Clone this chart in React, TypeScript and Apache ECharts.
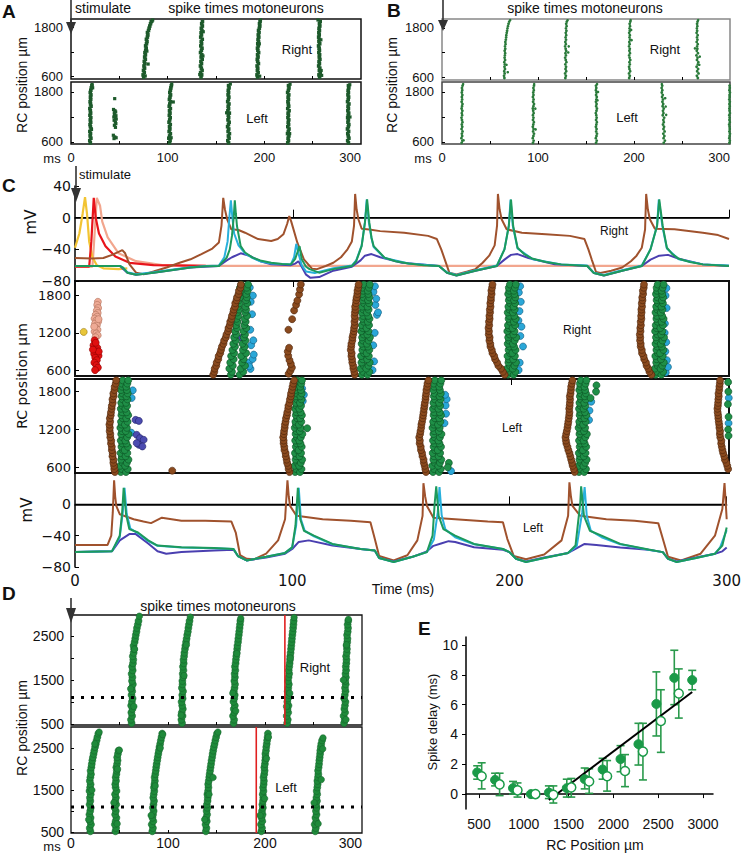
import React, { useEffect, useRef } from 'react';
import * as echarts from 'echarts';

// ---------------- Panel A / B (spike times motoneurons) ----------------
const AB_POS = [578, 632, 690, 743, 799, 852, 911, 965, 1018, 1074, 1129, 1183, 1240, 1292, 1349, 1403, 1458, 1512, 1567, 1621, 1678, 1730, 1787, 1841, 1898, 1952];

const A_R_V1 = [75.2, 74.6, 75.8, 75.0, 76.1, 75.5, 76.4, 75.8, 76.9, 76.2, 77.0, 76.5, 77.3, 77.8, 77.2, 78.1, 78.6, 78.0, 79.0, 79.5, 79.1, 80.2, 80.8, 81.5, 82.3, 83.0];
const A_R_V2 = [134.5, 135.2, 134.1, 135.6, 134.8, 133.9, 135.0, 134.4, 135.7, 134.6, 135.3, 134.0, 134.9, 135.5, 134.3, 135.1, 134.7, 135.8, 134.2, 135.0, 134.6, 135.4, 134.8, 135.9, 135.2, 136.0];
const A_R_V3 = [193.0, 192.4, 193.6, 192.8, 193.2, 192.5, 193.9, 193.1, 192.7, 193.5, 193.0, 194.1, 193.3, 192.9, 193.8, 193.2, 194.0, 193.5, 194.3, 193.7, 194.5, 194.0, 194.8, 195.3, 195.0, 195.6];
const A_R_V4 = [257.2, 256.5, 257.8, 256.9, 257.4, 256.2, 257.0, 256.6, 257.5, 256.8, 257.2, 256.4, 257.0, 256.7, 256.1, 257.3, 256.5, 256.9, 256.2, 256.8, 256.4, 257.0, 256.6, 257.4, 257.0, 257.8];
const A_R_EXTRA = [[84.5, 1990], [83.8, 1960], [79.8, 900], [136.8, 1700], [133.2, 640], [196.0, 1990], [195.2, 600], [259.3, 620], [258.8, 740], [255.5, 1990], [76.8, 605], [78.5, 1220], [136.5, 1100], [194.8, 1400], [258.5, 1500]];

const A_L_V1 = [20.0, 19.4, 20.6, 19.8, 20.2, 19.5, 20.8, 20.1, 19.7, 20.4, 19.9, 20.5, 19.6, 20.3, 20.0, 19.5, 20.7, 20.2, 19.8, 20.4, 20.1, 20.6, 19.9, 20.5, 21.0, 21.6];
const A_L_V2 = [101.8, 102.5, 101.2, 102.0, 102.8, 101.5, 102.3, 101.9, 102.7, 101.4, 102.1, 102.6, 101.7, 102.4, 101.9, 102.8, 101.6, 102.2, 102.9, 101.8, 102.4, 103.0, 102.2, 102.8, 103.3, 103.8];
const A_L_V3 = [163.0, 162.2, 163.5, 162.8, 163.9, 162.5, 163.2, 162.0, 162.9, 163.6, 162.4, 163.1, 162.7, 163.8, 162.3, 163.0, 162.6, 163.4, 162.1, 162.8, 163.3, 162.5, 163.0, 162.7, 163.5, 163.0];
const A_L_V4 = [224.2, 225.0, 224.6, 225.4, 224.0, 224.8, 225.5, 224.3, 225.1, 224.7, 225.3, 224.4, 225.0, 224.6, 225.6, 224.2, 225.2, 224.8, 224.4, 225.0, 224.6, 225.3, 224.1, 224.9, 225.5, 225.0];
const A_L_V5 = [287.0, 286.2, 287.5, 286.8, 286.3, 287.2, 286.0, 286.9, 287.4, 286.5, 287.0, 286.2, 286.7, 287.3, 286.4, 287.0, 286.6, 287.5, 286.1, 286.8, 287.2, 286.5, 287.0, 286.7, 287.4, 287.0];
const A_L_CLUSTER = [[45.2, 1640], [44.0, 1380], [45.5, 1350], [44.8, 1300], [46.2, 1320], [45.0, 1250], [46.5, 1230], [44.3, 1200], [45.8, 1180], [46.8, 1150], [44.6, 1120], [45.9, 1080], [46.4, 1040], [44.9, 1000], [46.0, 950], [43.8, 760], [45.3, 720], [46.7, 700], [44.5, 680]];
const A_L_EXTRA = [[21.8, 1980], [22.4, 1900], [105.8, 1560], [104.2, 1990], [164.8, 1990], [226.6, 1985], [288.4, 1975], [21.2, 900], [103.6, 700], [161.0, 1300], [226.2, 800], [288.6, 1200]];

const B_R_V1 = [65.0, 64.6, 65.3, 64.8, 65.6, 65.1, 65.4, 64.9, 65.7, 65.2, 65.5, 65.8, 65.3, 65.9, 65.6, 66.2, 66.0, 66.5, 66.8, 67.0, 67.4, 67.8, 68.2, 68.7, 69.3, 70.0];
const B_R_V2 = [128.5, 129.0, 128.2, 129.4, 128.7, 129.2, 128.4, 129.6, 128.9, 128.3, 129.1, 128.6, 129.3, 128.8, 128.2, 129.0, 128.5, 129.2, 128.7, 129.4, 128.9, 129.6, 129.1, 129.8, 129.4, 130.0];
const B_R_V3 = [195.0, 195.6, 194.8, 196.0, 195.3, 194.9, 195.7, 195.2, 196.1, 195.4, 194.9, 195.8, 195.2, 195.6, 194.8, 195.5, 195.1, 195.9, 195.3, 195.7, 195.0, 195.6, 195.3, 195.9, 195.5, 196.2];
const B_R_V4 = [266.5, 265.5, 267.2, 265.8, 266.8, 265.2, 266.4, 267.0, 265.6, 266.2, 265.0, 266.6, 265.4, 266.0, 265.7, 266.4, 265.3, 266.1, 265.6, 266.3, 265.2, 265.8, 265.5, 266.0, 265.7, 266.2];
const B_R_EXTRA = [[68.5, 720], [67.2, 900], [71.0, 1990], [131.5, 1200], [132.0, 1350], [130.8, 1985], [197.5, 1500], [197.0, 1750], [196.5, 1990], [268.5, 1100], [268.0, 900], [263.5, 1300], [266.8, 1990]];

const B_L_V1 = [20.5, 21.2, 20.2, 21.0, 20.7, 21.4, 20.4, 21.1, 20.6, 21.3, 20.8, 20.3, 21.0, 20.6, 21.2, 20.4, 20.9, 21.3, 20.5, 21.0, 20.7, 21.2, 20.6, 21.1, 20.8, 21.4];
const B_L_V2 = [94.8, 95.5, 94.5, 95.2, 95.8, 94.9, 95.4, 94.6, 95.1, 95.7, 94.8, 95.3, 94.7, 95.5, 95.0, 94.6, 95.2, 95.8, 94.9, 95.4, 94.7, 95.3, 95.0, 95.6, 95.2, 95.8];
const B_L_V3 = [160.5, 161.2, 160.2, 160.9, 161.4, 160.6, 161.0, 160.3, 160.8, 161.3, 160.5, 161.1, 160.7, 160.2, 160.9, 161.4, 160.6, 161.0, 160.4, 160.8, 161.2, 160.5, 160.9, 160.3, 160.7, 160.4];
const B_L_V4 = [231.0, 232.2, 230.8, 231.6, 230.5, 231.9, 230.7, 231.3, 230.2, 231.0, 230.6, 231.4, 229.9, 230.7, 230.2, 231.0, 229.8, 230.4, 229.6, 230.2, 229.3, 229.9, 228.9, 229.5, 228.8, 229.4];
const B_L_V5 = [299.4, 299.8, 299.2, 299.6, 299.9, 299.3, 299.7, 299.5, 299.1, 299.8, 299.4, 299.6, 299.2, 299.9, 299.5, 299.3, 299.7, 299.4, 299.8, 299.2, 299.6, 299.5, 299.9, 299.3, 299.7, 299.5];
const B_L_EXTRA = [[22.5, 640], [22.0, 1990], [97.5, 900], [97.2, 1400], [96.0, 1990], [162.5, 1800], [162.0, 1600], [161.5, 1990], [233.5, 1250], [233.0, 1450], [232.5, 1650], [229.0, 1990]];

// ---------------- Panel C voltage traces (ms, mV) ----------------
const VR_YELLOW = [[0, -38], [2, -20], [3.5, 5], [4.6, 26], [5.5, 5], [6.5, -30], [8, -50], [10, -60], [13, -64], [20, -65], [24, -64]];
const VR_RED = [[0, -62], [6.5, -62], [7.5, -30], [8.6, 25], [9.5, 0], [11, -20], [14, -36], [18.5, -49], [25, -57], [36, -60], [60, -61]];
const VR_SALMON = [[0, -62], [8, -62], [9, -20], [10, 25], [11.5, 15], [12.5, -5], [15, -25], [20, -45], [28, -55], [40, -60], [60, -61], [300, -61]];
const VR_BROWN = [[0, -51], [8, -51.5], [13, -51], [17, -47], [21.7, -41], [23, -45], [25, -59], [28, -69.5], [31.5, -71.6], [36, -68], [42, -63], [48, -57], [53, -52.6], [58, -46], [63, -39], [66, -31.5], [67.2, -10], [68, 25], [68.8, 10], [69.8, -2], [71.7, -14.7], [75, -15.6], [78, -19], [84, -27], [90, -29.5], [93, -27], [95.6, -21], [97.3, -8], [98.3, 2], [99.2, -5], [100, -12.6], [102, -31.6], [105, -52.6], [108.7, -64.4], [111, -65], [115, -61], [118.5, -57], [122, -50], [125, -40], [127, -30], [128, -10], [128.5, 30], [129.2, 10], [130, -2], [131.5, -14], [135, -15], [140, -17], [151, -19], [162, -23], [166, -27], [168, -40], [169.6, -52.6], [171.7, -69.5], [175, -71.6], [180, -68], [183.7, -65], [187, -57], [190, -48], [192.5, -35], [193.6, -10], [194, 30], [194.8, 10], [195.7, -2], [198, -14.7], [205, -19], [216, -21], [227, -23], [233.7, -27], [235.5, -40], [237, -52.6], [239, -68.6], [241, -70], [246, -67], [251, -63], [255, -55], [257.6, -48], [260, -38], [261.5, -15], [262, 30], [262.8, 10], [263.7, -2], [266, -14], [275, -14.7], [288, -19], [295, -22], [300, -27]];
const VR_BLUE = [[0, -61], [20.6, -61], [24, -69.5], [28, -72], [36, -69.5], [53, -63], [66, -61], [69.6, -54], [72, -50], [76, -45], [80, -48], [85, -55], [90, -59], [99, -60], [101, -58], [102.5, -55], [104, -62], [106, -72], [108, -76], [112, -75], [118.5, -67], [127, -62], [131, -54], [133, -48], [136, -46], [140, -50], [150, -57], [167, -61], [170.6, -69.5], [175, -73], [183.7, -67], [193.5, -61], [197, -53], [200, -47], [203, -46], [208, -51], [220, -59], [235, -61], [238, -70], [242.6, -73], [251, -67], [260, -61], [264, -53], [268, -48], [272, -47], [277, -52], [288, -59], [300, -61]];
const VR_CYAN = [[0, -61], [20.6, -61], [22, -63], [24, -69], [28, -71.5], [36, -69], [45, -65.5], [53, -62.5], [60, -61], [66, -60.5], [68.5, -50], [70, -30], [70.8, 0], [71.5, 22], [72.2, 0], [73, -20], [75, -35], [78, -45], [81.5, -51], [85, -55], [90, -58], [99, -59], [100.5, -50], [101.5, -33], [102.5, -45], [104, -60], [106, -68], [110, -70], [118.5, -64], [127, -60.5], [129, -54], [131.5, -35], [133, -6], [133.8, 23], [134.8, -6], [136, -26], [137, -37], [142, -51], [153, -58], [167, -61], [170.6, -69], [175, -72.5], [183.7, -66.5], [193.5, -60.5], [197, -40], [199, -10], [199.8, 23], [200.8, -10], [203, -39], [210, -52.5], [223, -59], [235, -60.5], [238, -69.5], [242.6, -72.5], [251, -66.5], [260, -60.5], [264, -40], [267, -10], [267.8, 23], [269.4, -10], [271.5, -39], [277, -52.5], [288, -59], [300, -60.5]];
const VR_GREEN = [[0, -61], [20.6, -61], [22, -63], [24, -69.5], [28, -72], [32, -71], [36, -69.5], [45, -66], [53, -63], [60, -61.5], [66, -61], [69.6, -50.5], [71, -40], [72, -23], [72.8, 0], [73.3, 22], [73.8, 5], [74.3, -10.5], [76, -36], [78, -44], [81.5, -50.5], [85, -54], [90, -57], [95, -58.5], [99, -59], [101, -52], [102, -44], [103, -36], [104, -52.6], [106, -62], [107.6, -65], [112, -69.5], [118.5, -65], [127, -61], [129, -55], [131.5, -36], [133, -6], [134, 23], [135, -6], [136, -25], [137, -36], [142, -50.5], [147, -55], [153, -58], [160, -60], [167, -61], [170.6, -69.5], [175, -73], [183.7, -67], [193.5, -61], [197, -40], [199, -10.5], [200, 23], [201, -10.5], [203, -38], [206, -46], [210, -52], [216, -56], [223, -59], [235, -61], [238, -70], [242.6, -73], [251, -67], [260, -61], [264, -40], [267, -10.5], [268, 23], [269.6, -10.5], [271.5, -38], [274, -46], [277, -52], [282, -56], [288, -59], [300, -61]];

const VL_BROWN = [[0, -51.8], [15, -51.8], [16.7, -40], [17.4, -10], [18, 30.7], [18.5, 10], [19, -2], [20.6, -12.6], [27, -19], [31.5, -22], [35, -24], [40, -17], [49, -21], [60, -21], [72, -22], [74, -36], [76, -65], [79, -69.5], [82.6, -70], [88, -63], [93.5, -46], [96.7, -19], [97.8, 30.7], [98.4, 10], [99, -2], [102, -14.7], [114, -19], [127, -21], [136, -23], [138, -44], [140, -66], [146.7, -71.6], [153, -65], [157.6, -46], [160, -14.7], [160.4, 27], [161.2, 10], [162, -2], [165, -17], [175, -19], [190, -22], [197, -23], [199, -44], [202, -66], [207.6, -70], [216, -64], [224, -46], [227, -14.7], [227.6, 28], [228.3, 10], [229, -2], [232.6, -14.7], [244.6, -19], [257.6, -21], [268.5, -24], [270.6, -44], [273, -67], [279, -71.6], [288, -63], [294.6, -40], [298, -6], [299, 27], [299.6, 0], [300, -19]];
const VL_BLUE = [[0, -61], [17, -60], [20.6, -46], [25, -38], [28, -38], [33.7, -50], [38, -60], [42, -63], [49, -61], [64, -59], [73, -58], [75, -66], [79, -71.6], [88, -68], [96.7, -63], [100, -57], [103, -48], [107.6, -46], [118.5, -52.6], [131.5, -57], [138, -59], [140, -68.6], [146.7, -73], [155.4, -67], [162, -60], [165, -53], [168.5, -50], [172, -47], [175, -48], [183.7, -54.7], [197, -58], [200, -61], [203, -69.5], [207.6, -73], [216, -68], [227, -62], [230.4, -57], [234.6, -50.5], [240, -52], [251, -55], [264, -58], [270.6, -61], [273, -69.5], [277, -73], [285.9, -68], [294.6, -63], [298, -60], [300, -55]];
const VL_CYAN = [[0, -61], [17, -60], [20.6, -42], [22, -10], [22.8, 21], [23.8, -12], [25.5, -31], [29, -37], [33.7, -47], [38, -53], [49, -55], [64, -56], [73, -57], [75, -66], [79, -71.6], [88, -67], [96.7, -62], [100, -55], [101.8, -27], [103, 21], [104, -19], [105.8, -34], [110, -41], [118.5, -51], [131.5, -57], [138, -59], [140, -68.6], [146.7, -73.7], [155.4, -67], [162, -61], [165.2, -45], [167, -10], [167.8, 22], [168.8, -14], [170.5, -32], [175, -42], [183.7, -51], [197, -57], [200, -61], [203, -69.5], [207.6, -73.7], [216, -68.6], [227, -62], [231, -53], [233.5, -10], [234.6, 22], [235.6, -15], [237.5, -34], [242.4, -42], [251, -51], [264, -58], [270.6, -61], [273, -69.5], [277, -73.7], [285.9, -68.6], [294.6, -63], [297, -55], [299, -40], [300, -33]];
const VL_GREEN = [[0, -61], [17, -60], [20.6, -40], [21.7, -10.5], [22.4, 21], [23.5, -12.6], [25, -31.6], [29, -36], [33.7, -46], [38, -52.6], [49, -54.7], [64, -55.6], [73, -57], [75, -66], [79, -71.6], [88, -67], [96.7, -62], [100, -54.7], [101.5, -27], [102.6, 21], [103.7, -19], [105.4, -33.7], [110, -40], [118.5, -50.5], [131.5, -57], [138, -59], [140, -68.6], [146.7, -73.7], [155.4, -67], [162, -61], [164.6, -40], [165.6, 2], [166.3, 23], [167.4, -14.7], [169.6, -31.6], [175, -40], [183.7, -50.5], [197, -57], [200, -61], [203, -69.5], [207.6, -73.7], [216, -68.6], [227, -62], [230.4, -52.6], [232.6, 2], [233, 23], [234.3, -14.7], [237, -33.7], [242.4, -40], [251, -50.5], [264, -57.7], [270.6, -61], [273, -69.5], [277, -73.7], [285.9, -68.6], [294.6, -63], [298, -52.6], [300, -29.5]];

// ---------------- Panel C rasters (ms, µm) ----------------
const C_POS = [525, 572, 624, 671, 722, 775, 826, 873, 925, 978, 1024, 1076, 1127, 1174, 1226, 1277, 1323, 1378, 1426, 1473, 1528, 1575, 1622, 1677, 1726, 1771, 1825, 1878, 1927, 1978];

const CR_BROWN_V1 = [63.4, 63.9, 64.1, 64.8, 65.0, 65.7, 65.9, 66.6, 67.0, 67.4, 68.1, 68.4, 69.2, 69.5, 70.2, 70.4, 71.0, 71.2, 71.8, 72.0, 72.6, 72.8, 73.4, 73.5, 74.1, 74.3, 75.0, 75.2, 75.9, 76.1];
const CR_BROWN_V2 = [[98.0, 540], [98.8, 590], [99.5, 640], [99.0, 700], [98.4, 760], [97.8, 830], [97.6, 900], [98.2, 960], [97.9, 1250], [99.6, 1420], [100.5, 1560], [101.4, 1650], [102.0, 1720], [102.8, 1820], [103.2, 1900], [103.6, 1980]];
const CR_BROWN_V3 = [128.3, 128.1, 127.7, 127.6, 127.2, 127.1, 126.8, 126.9, 126.5, 126.7, 126.8, 127.2, 127.3, 127.6, 127.9, 128.0, 128.3, 128.2, 128.5, 128.3, 128.4, 128.6, 128.5, 128.9, 129.0, 129.2, 129.5, 129.6, 129.9, 130.1];
const CR_BROWN_V4 = [197.1, 196.3, 195.4, 194.2, 193.6, 192.7, 192.3, 191.5, 191.2, 190.6, 190.5, 190.1, 190.2, 189.8, 189.9, 189.7, 190.0, 189.9, 190.2, 190.1, 190.4, 190.3, 190.6, 190.5, 190.8, 190.8, 191.1, 191.0, 191.3, 191.5];
const CR_BROWN_V5 = [264.4, 263.5, 263.0, 262.2, 261.9, 261.1, 260.8, 260.1, 260.0, 259.5, 259.5, 259.2, 259.3, 259.1, 259.4, 259.3, 259.6, 259.5, 259.8, 259.7, 259.9, 259.8, 260.1, 260.0, 260.3, 260.2, 260.6, 260.5, 260.9, 261.0];

const CR_GREEN_V1A = [71.5, 72.0, 70.8, 72.4, 71.2, 72.8, 71.6, 73.0, 72.2, 73.4, 72.6, 73.8, 73.0, 74.0, 73.4, 74.3, 73.8, 74.6, 74.1, 74.9, 74.4, 75.2, 74.8, 75.5, 75.1, 75.8, 75.4, 76.0, 75.7, 76.3];
const CR_GREEN_V1B = [75.5, 77.2, 76.0, 78.0, 76.6, 77.4, 76.2, 78.5, 77.0, 77.8, 76.8, 78.2, 77.4, 78.0, 77.2, 78.6, 77.6, 78.3, 77.8, 78.9, 78.0, 78.5, 78.2, 79.0, 78.4, 78.8, 78.6, 79.2, 78.8, 79.4];
const CR_GREEN_V2A = [131.6, 132.2, 131.0, 132.5, 131.4, 132.0, 131.2, 132.6, 131.8, 132.3, 131.5, 132.1, 131.7, 132.4, 131.3, 132.0, 131.6, 132.5, 131.9, 132.2, 131.5, 132.3, 131.8, 132.6, 132.0, 132.4, 131.7, 132.2, 132.0, 132.5];
const CR_GREEN_V2B = [134.2, 135.0, 133.6, 134.6, 135.2, 134.0, 134.8, 133.8, 135.0, 134.4, 133.9, 134.7, 135.3, 134.1, 134.6, 133.7, 134.9, 134.3, 135.1, 134.5, 133.9, 134.7, 134.2, 134.9, 134.4, 135.0, 134.6, 134.3, 134.8, 135.2];
const CR_GREEN_V3A = [198.6, 199.2, 198.2, 199.5, 198.8, 199.0, 198.4, 199.6, 198.9, 199.3, 198.5, 199.1, 198.7, 199.4, 198.3, 199.0, 198.6, 199.5, 198.9, 199.2, 198.5, 199.3, 198.8, 199.6, 199.0, 199.4, 198.7, 199.2, 199.0, 199.5];
const CR_GREEN_V3B = [201.2, 202.0, 200.8, 201.6, 202.3, 201.0, 201.8, 200.6, 202.1, 201.4, 200.9, 201.7, 202.4, 201.1, 201.6, 200.7, 201.9, 201.3, 202.2, 201.5, 200.9, 201.7, 201.2, 201.9, 201.4, 202.0, 201.6, 201.3, 201.8, 202.2];
const CR_GREEN_V4A = [266.4, 267.0, 266.0, 267.3, 266.6, 266.8, 266.2, 267.4, 266.7, 267.1, 266.3, 266.9, 266.5, 267.2, 266.1, 266.8, 266.4, 267.3, 266.7, 267.0, 266.3, 267.1, 266.6, 267.4, 266.8, 267.2, 266.5, 267.0, 266.8, 267.3];
const CR_GREEN_V4B = [269.0, 269.8, 268.6, 269.4, 270.1, 268.8, 269.6, 268.4, 269.9, 269.2, 268.7, 269.5, 270.2, 268.9, 269.4, 268.5, 269.7, 269.1, 270.0, 269.3, 268.7, 269.5, 269.0, 269.7, 269.2, 269.8, 269.4, 269.1, 269.6, 270.0];
const CR_CYAN = [[80.5, 620], [79.8, 720], [81.5, 780], [82.0, 850], [80.8, 1000], [81.8, 1080], [80.4, 1250], [81.2, 1500], [80.6, 1700], [81.6, 1800], [80.2, 1930], [79.9, 660],
  [136.5, 600], [137.2, 740], [136.8, 1000], [137.5, 1200], [138.5, 1490], [139.0, 1530], [137.8, 1650], [138.2, 1750], [136.9, 1860], [137.6, 1950],
  [203.5, 600], [204.0, 720], [205.5, 980], [204.3, 1150], [204.8, 1300], [203.9, 1550], [204.5, 1700], [203.6, 1850], [204.2, 1950], [203.4, 1400],
  [271.0, 560], [272.0, 650], [271.5, 760], [270.8, 900], [271.2, 1050], [270.6, 1350], [271.4, 1600], [270.9, 1800], [271.3, 1920], [270.5, 1200]];
const CR_INDIGO = [[76.5, 1120]];
const CR_RED = [[9.0, 1080], [8.5, 1000], [10.2, 960], [9.6, 900], [8.8, 860], [10.8, 830], [9.3, 800], [10.0, 760], [8.9, 720], [9.8, 680], [10.5, 640], [9.2, 600], [10.9, 900], [8.2, 930], [9.5, 1040]];
const CR_SALMON = [[10.5, 1700], [10.2, 1650], [10.6, 1600], [10.0, 1560], [10.4, 1520], [9.5, 1490], [10.2, 1460], [9.0, 1430], [9.8, 1400], [10.6, 1380], [9.2, 1350], [10.0, 1320], [9.5, 1280], [10.3, 1250], [9.0, 1220], [9.8, 1190], [10.4, 1160], [9.4, 1130], [8.8, 1300], [10.8, 1420]];
const CR_YELLOW = [[4.0, 1215]];

const CL_BROWN_V1 = [18.3, 18.0, 17.9, 17.6, 17.6, 17.2, 17.3, 16.9, 16.9, 16.5, 16.6, 16.2, 16.2, 15.9, 16.0, 15.8, 16.1, 16.0, 16.4, 16.5, 16.8, 16.9, 17.3, 17.2, 17.7, 17.6, 18.1, 18.2, 18.7, 18.9];
const CL_BROWN_V2 = [98.4, 98.0, 97.8, 97.3, 97.1, 96.7, 96.6, 96.1, 96.0, 95.7, 95.7, 95.5, 95.8, 95.9, 96.2, 96.3, 96.6, 96.8, 97.2, 97.4, 97.8, 97.9, 98.4, 98.6, 99.0, 99.1, 99.5, 99.8, 100.1, 100.5];
const CL_BROWN_V3 = [161.0, 160.7, 160.4, 160.0, 159.9, 159.4, 159.2, 158.7, 158.6, 158.1, 158.2, 157.9, 158.3, 158.5, 158.8, 158.9, 159.2, 159.5, 159.7, 159.9, 160.1, 160.3, 160.5, 160.8, 160.9, 161.1, 161.2, 161.5, 161.7, 162.1];
const CL_BROWN_V4 = [229.2, 228.8, 228.3, 228.0, 227.6, 227.2, 226.8, 226.3, 225.9, 225.4, 225.2, 225.0, 225.3, 225.6, 225.9, 226.1, 226.3, 226.5, 226.7, 226.8, 226.7, 226.9, 227.0, 227.1, 227.0, 227.3, 227.5, 227.6, 227.9, 228.2];
const CL_BROWN_V5 = [300.2, 299.6, 299.2, 298.8, 298.1, 297.8, 297.3, 297.0, 296.7, 296.4, 296.5, 296.0, 295.8, 295.9, 295.6, 295.5, 295.3, 295.1, 295.0, 294.8, 294.7, 294.9, 295.0, 295.1, 295.3, 295.2, 295.5, 295.6, 295.8, 295.9];
const CL_BROWN_EXTRA = [[44.6, 547]];

const CL_GREEN_V1A = [21.0, 21.6, 20.7, 21.9, 21.2, 21.5, 20.9, 22.0, 21.3, 21.7, 21.0, 21.8, 21.2, 21.6, 20.8, 21.4, 21.1, 21.9, 21.3, 21.6, 21.0, 21.7, 21.2, 21.9, 21.4, 21.8, 21.1, 21.6, 21.4, 21.9];
const CL_GREEN_V1B = [23.4, 24.2, 23.0, 23.8, 24.5, 23.2, 24.0, 22.8, 24.3, 23.6, 23.1, 23.9, 24.6, 23.3, 23.8, 22.9, 24.1, 23.5, 24.4, 23.7, 23.1, 23.9, 23.4, 24.1, 23.6, 24.2, 23.8, 23.5, 24.0, 24.4];
const CL_GREEN_V2A = [101.0, 101.6, 100.7, 101.9, 101.2, 101.5, 100.9, 102.0, 101.3, 101.7, 101.0, 101.8, 101.2, 101.6, 100.8, 101.4, 101.1, 101.9, 101.3, 101.6, 101.0, 101.7, 101.2, 101.9, 101.4, 101.8, 101.1, 101.6, 101.4, 101.9];
const CL_GREEN_V2B = [103.2, 103.9, 102.8, 103.6, 104.2, 103.0, 103.7, 102.6, 104.0, 103.4, 102.9, 103.6, 104.3, 103.1, 103.5, 102.7, 103.8, 103.3, 104.1, 103.5, 102.9, 103.7, 103.2, 103.9, 103.4, 104.0, 103.6, 103.3, 103.8, 104.1];
const CL_GREEN_V3A = [164.2, 164.8, 163.9, 165.1, 164.4, 164.7, 164.1, 165.2, 164.5, 164.9, 164.2, 165.0, 164.4, 164.8, 164.0, 164.6, 164.3, 165.1, 164.5, 164.8, 164.2, 164.9, 164.4, 165.1, 164.6, 165.0, 164.3, 164.8, 164.6, 165.1];
const CL_GREEN_V3B = [167.0, 167.8, 166.6, 167.4, 168.0, 166.8, 167.5, 166.4, 167.9, 167.2, 166.7, 167.4, 168.1, 166.9, 167.3, 166.5, 167.6, 167.1, 167.9, 167.3, 166.7, 167.5, 167.0, 167.7, 167.2, 167.8, 167.4, 167.1, 167.6, 168.0];
const CL_GREEN_V4A = [231.2, 231.8, 230.9, 232.1, 231.4, 231.7, 231.1, 232.2, 231.5, 231.9, 231.2, 232.0, 231.4, 231.8, 231.0, 231.6, 231.3, 232.1, 231.5, 231.8, 231.2, 231.9, 231.4, 232.1, 231.6, 232.0, 231.3, 231.8, 231.6, 232.1];
const CL_GREEN_V4B = [233.6, 234.4, 233.2, 234.0, 234.7, 233.4, 234.2, 233.0, 234.5, 233.8, 233.3, 234.1, 234.8, 233.5, 234.0, 233.1, 234.3, 233.7, 234.6, 233.9, 233.3, 234.1, 233.6, 234.3, 233.8, 234.4, 234.0, 233.7, 234.2, 234.6];
const CL_GREEN_EXTRA = [[106.5, 1220], [171.5, 670], [171.0, 600], [239.2, 1900], [239.0, 1800], [236.5, 1700], [299.6, 1200], [299.8, 1400], [299.5, 1600], [299.7, 1800], [299.6, 1950], [299.8, 1100]];
const CL_CYAN = [[26.5, 1820], [25.8, 1150], [26.0, 1700], [104.5, 1650], [105.0, 1750], [104.2, 1850], [172.5, 540], [170.0, 1580], [170.5, 1680], [169.8, 1750], [169.5, 1300], [170.2, 1450], [236.8, 1640], [236.0, 1500], [235.8, 1350], [299.9, 1700], [299.8, 1300]];
const CL_INDIGO = [[27.8, 1352], [29.3, 1336], [28.3, 1115], [29.8, 1063], [31.5, 1036], [29.3, 958], [30.9, 931], [28.3, 984]];

// ---------------- Panel D ----------------
const D_POS = [520, 598, 683, 760, 842, 918, 1003, 1081, 1158, 1242, 1320, 1401, 1478, 1562, 1640, 1719, 1803, 1879, 1962, 2041, 2118, 2203, 2280, 2361, 2438, 2522, 2598, 2681, 2759, 2843];
const D_R_V1 = [62.5, 61.8, 63.0, 62.2, 63.4, 62.0, 62.8, 63.5, 62.4, 63.1, 62.6, 63.8, 62.9, 63.3, 62.5, 63.6, 63.0, 63.9, 64.2, 63.7, 64.6, 65.0, 64.5, 65.6, 66.2, 66.8, 67.5, 68.0, 68.9, 69.6];
const D_R_V2 = [114.5, 113.8, 115.0, 114.2, 115.3, 114.6, 114.0, 115.1, 114.7, 115.5, 114.3, 115.0, 114.8, 115.6, 115.2, 115.9, 115.4, 116.2, 116.0, 116.6, 116.9, 117.5, 117.9, 118.6, 119.2, 119.8, 120.5, 121.0, 121.6, 122.2];
const D_R_V3 = [167.6, 168.2, 167.0, 168.5, 167.8, 168.9, 167.5, 168.3, 168.8, 167.9, 168.6, 169.1, 168.4, 169.0, 168.7, 169.4, 169.0, 169.7, 170.0, 170.4, 170.8, 171.3, 171.6, 172.2, 172.5, 173.0, 173.4, 173.8, 174.2, 174.6];
const D_R_V4 = [222.8, 223.5, 222.4, 223.9, 223.2, 224.2, 223.0, 223.7, 224.4, 223.4, 224.0, 224.6, 223.8, 224.3, 224.9, 224.5, 225.0, 225.4, 225.8, 226.0, 226.4, 226.8, 227.1, 227.5, 227.8, 228.2, 228.6, 229.0, 229.3, 229.6];
const D_R_V5 = [281.5, 282.2, 281.0, 282.6, 281.8, 282.4, 282.9, 281.6, 282.3, 283.0, 282.5, 283.2, 282.8, 283.4, 283.0, 283.6, 283.3, 283.8, 284.0, 283.6, 284.3, 284.5, 284.2, 284.8, 285.0, 284.6, 285.3, 285.6, 285.2, 285.8];
const D_R_EXTRA = [[70.5, 2950], [65.5, 2200], [61.5, 1300], [64.8, 900], [123, 2930], [119, 2300], [116.5, 1600], [113.5, 700], [175, 2900], [171, 2100], [166.8, 1200], [169.8, 800], [230, 2920], [226, 2000], [225.5, 1200], [222.2, 900], [286, 2880], [284, 2300], [283.5, 600], [280.8, 1500]];
const D_L_V1 = [20.0, 19.3, 20.6, 19.6, 20.2, 19.0, 19.8, 20.4, 19.2, 19.9, 19.5, 20.3, 19.1, 19.7, 20.2, 19.4, 20.0, 20.6, 20.2, 21.0, 21.4, 22.0, 22.6, 23.3, 24.0, 24.8, 25.6, 26.4, 27.2, 28.2];
const D_L_V2 = [45.8, 46.5, 45.2, 46.0, 46.8, 45.5, 46.2, 45.0, 46.6, 45.7, 46.3, 45.4, 46.9, 46.0, 45.6, 46.4, 46.1, 46.8, 47.2, 46.7, 47.5, 48.0, 47.6, 48.4, 49.0];
const D_L_V3 = [83.8, 84.5, 83.2, 84.9, 84.0, 84.6, 85.2, 84.4, 85.0, 85.6, 84.8, 85.3, 85.9, 85.5, 86.0, 86.5, 86.2, 86.9, 87.4, 87.8, 88.3, 88.9, 89.4, 90.0, 90.6, 91.2, 91.9, 92.6, 93.3, 94.0];
const D_L_V4 = [139.0, 139.6, 138.7, 140.0, 139.4, 140.3, 139.8, 140.6, 140.1, 140.8, 141.0, 140.6, 141.3, 141.7, 141.4, 142.0, 142.5, 142.9, 143.4, 143.9, 144.4, 144.9, 145.5, 146.0, 146.6, 147.3, 148.0, 148.8, 149.6, 150.5];
const D_L_V5 = [196.2, 196.9, 195.8, 197.2, 196.5, 197.5, 196.9, 197.8, 197.3, 197.9, 198.2, 197.7, 198.4, 198.0, 198.6, 198.9, 198.5, 199.2, 199.6, 199.3, 199.9, 200.2, 200.6, 200.4, 201.0, 201.3, 201.8, 202.2, 202.7, 203.0];
const D_L_V6 = [251.8, 252.4, 251.2, 252.8, 252.0, 253.1, 252.5, 253.3, 252.7, 253.6, 253.0, 253.8, 253.3, 253.9, 254.3, 254.0, 254.6, 255.0, 254.7, 255.3, 255.7, 256.0, 256.4, 256.8, 257.0, 257.5, 258.0, 258.8];
const D_L_EXTRA = [[29, 2880], [24.5, 2600], [21.5, 1500], [18.2, 800], [49.8, 2450], [48.0, 2000], [44.2, 1200], [47.6, 700], [94.5, 2820], [92.0, 2500], [86.8, 1600], [82.6, 900], [151.5, 2880], [146.5, 1800], [142.3, 1400], [137.8, 800], [203.5, 2760], [201.5, 2250], [199.6, 1300], [194.9, 900], [259.8, 2740], [259.5, 2480], [258.0, 1750], [250.6, 1200], [254.8, 700]];
const D_RED_R = 220.5;
const D_RED_L = 191;
const D_DOT_POS = 1100;

// ---------------- Panel E ----------------
const E_FILLED_X = [480, 680, 880, 1080, 1280, 1480, 1680, 1880, 2080, 2280, 2480, 2680, 2880];
const E_FILLED_Y = [1.45, 0.95, 0.4, 0.0, 0.1, 0.4, 1.0, 1.65, 2.35, 3.35, 6.05, 7.8, 7.65];
const E_FILLED_LO = [1.0, 0.55, 0.0, 0.0, -0.3, -0.2, 0.35, 1.0, 1.5, 1.95, 3.9, 6.0, 7.0];
const E_FILLED_HI = [1.9, 1.4, 0.85, 0.0, 0.55, 1.0, 1.75, 2.4, 3.25, 4.75, 8.2, 9.65, 8.3];
const E_OPEN_X = [530, 730, 930, 1130, 1330, 1530, 1730, 1930, 2130, 2330, 2530, 2730];
const E_OPEN_Y = [1.2, 0.65, 0.25, 0.0, -0.05, 0.45, 0.85, 1.2, 1.55, 2.85, 4.9, 6.75];
const E_OPEN_LO = [0.35, -0.1, -0.2, 0.0, -0.6, -0.2, 0.05, 0.2, 0.5, 0.95, 2.8, 5.1];
const E_OPEN_HI = [2.1, 1.4, 0.75, 0.0, 0.55, 1.05, 1.7, 2.25, 2.65, 4.75, 7.0, 8.4];
const E_FIT = [[1280, -0.4], [2880, 6.85]];

const SANS = '"Liberation Sans", Arial, sans-serif';
const DJV = '"DejaVu Sans", sans-serif';

const zip = (pos: number[], ts: number[]) => ts.slice(0, pos.length).map((t, i) => [t, pos[i]]);
const minus = (v: number) => (v < 0 ? '\u2212' + Math.abs(v) : String(v));

function buildOption() {
  const grids = [
    { left: 71, top: 19, width: 290, height: 60, show: true, borderColor: '#111', borderWidth: 1.5 }, // 0 A top
    { left: 71, top: 82, width: 290, height: 62, show: true, borderColor: '#111', borderWidth: 1.5 }, // 1 A bot
    { left: 442, top: 19, width: 288, height: 61, show: true, borderColor: '#888', borderWidth: 1.5 }, // 2 B top
    { left: 442, top: 82, width: 288, height: 62, show: true, borderColor: '#444', borderWidth: 1.5 }, // 3 B bot
    { left: 75, top: 186, width: 654, height: 95 }, // 4 C volt R
    { left: 75, top: 281, width: 654, height: 95, show: true, borderColor: '#111', borderWidth: 2 }, // 5 C raster R
    { left: 75, top: 379, width: 654, height: 94, show: true, borderColor: '#111', borderWidth: 2 }, // 6 C raster L
    { left: 75, top: 473, width: 654, height: 94 }, // 7 C volt L
    { left: 71, top: 615, width: 291, height: 110, show: true, borderColor: '#111', borderWidth: 1.3 }, // 8 D top
    { left: 71, top: 727, width: 291, height: 106, show: true, borderColor: '#111', borderWidth: 1.3 }, // 9 D bot
    { left: 466, top: 637, width: 247, height: 172 }, // 10 E
  ];

  const tx = (gridIndex: number, o: any = {}) => ({
    type: 'value', gridIndex, min: o.min ?? 0, max: o.max ?? 300, position: o.position || 'bottom',
    axisLine: { show: !!o.line, lineStyle: { color: '#000', width: 1.5 } },
    axisTick: { show: !!o.ticks, inside: o.inside ?? true, length: o.tickLen || 4, customValues: o.ticks || [], lineStyle: { color: '#000', width: 1 } },
    axisLabel: { show: !!o.labels, customValues: o.labels || [], fontSize: o.fontSize || 14, fontFamily: o.font || SANS, color: '#111', margin: o.margin ?? 6, alignMaxLabel: o.alignMax, formatter: (v: number) => minus(v) },
    splitLine: { show: false },
  });
  const ty = (gridIndex: number, min: number, max: number, o: any = {}) => ({
    type: 'value', gridIndex, min, max,
    axisLine: { show: !!o.line, lineStyle: { color: '#000', width: 1.5 } },
    axisTick: { show: !!o.ticks, inside: o.inside ?? true, length: o.tickLen || 4, customValues: o.ticks || [], lineStyle: { color: '#000', width: 1 } },
    axisLabel: { show: !!o.labels, customValues: o.labels || [], fontSize: o.fontSize || 14, fontFamily: o.font || SANS, color: '#111', margin: o.margin ?? 8, formatter: (v: number) => minus(v) },
    splitLine: { show: false },
  });

  const xAxis = [
    tx(0, { ticks: [50, 100, 150, 200, 250], tickLen: 3 }),
    tx(1, { ticks: [50, 100, 150, 200, 250], tickLen: 3, labels: [0, 100, 200, 300], fontSize: 13, margin: 7, alignMax: 'right' }),
    tx(2, { ticks: [50, 100, 150, 200, 250], tickLen: 3 }),
    tx(3, { ticks: [50, 100, 150, 200, 250], tickLen: 3, labels: [0, 100, 200, 300], fontSize: 13, margin: 7, alignMax: 'right' }),
    tx(4, { line: true, ticks: [100, 200, 300], tickLen: 8 }),
    tx(5, { position: 'top', ticks: [100, 200], tickLen: 6 }),
    tx(6, { position: 'top', ticks: [100, 200], tickLen: 6 }),
    tx(7, { line: true, ticks: [100, 200, 300], tickLen: 8, labels: [0, 100, 200, 300], font: DJV, fontSize: 15, margin: 6 }),
    tx(8, { ticks: [50, 100, 150, 200, 250], tickLen: 3 }),
    tx(9, { ticks: [50, 100, 150, 200, 250], tickLen: 3, labels: [0, 100, 200, 300], margin: 3, alignMax: 'right' }),
    tx(10, { min: 355, max: 3112, line: true, inside: false, ticks: [500, 1000, 1500, 2000, 2500, 3000], labels: [500, 1000, 1500, 2000, 2500, 3000], tickLen: 4, margin: 8 }),
  ];
  const yAxis = [
    ty(0, 530, 2015, { ticks: [600, 1200, 1800], labels: [600, 1800], tickLen: 3, fontSize: 13 }),
    ty(1, 550, 2040, { ticks: [600, 1200, 1800], labels: [600, 1800], tickLen: 3, fontSize: 13 }),
    ty(2, 530, 2015, { ticks: [600, 1200, 1800], labels: [600, 1800], tickLen: 3, fontSize: 13 }),
    ty(3, 550, 2040, { ticks: [600, 1200, 1800], labels: [600, 1800], tickLen: 3, fontSize: 13 }),
    ty(4, -80, 40, { line: true, ticks: [-80, -40, 0, 40], labels: [-80, -40, 0, 40], font: DJV, fontSize: 14, margin: 4 }),
    ty(5, 505, 2035, { ticks: [600, 1200, 1800], labels: [600, 1200, 1800], font: DJV, fontSize: 13, margin: 4 }),
    ty(6, 510, 2000, { ticks: [600, 1200, 1800], labels: [600, 1200, 1800], font: DJV, fontSize: 13, margin: 4 }),
    ty(7, -80, 40, { line: true, ticks: [-80, -40, 0], labels: [-80, -40, 0], font: DJV, fontSize: 14, margin: 4 }),
    ty(8, 477, 2977, { ticks: [500, 1000, 1500, 2000, 2500], labels: [500, 1500, 2500], tickLen: 3, margin: 7 }),
    ty(9, 480, 3000, { ticks: [500, 1000, 1500, 2000, 2500], labels: [500, 1500, 2500], tickLen: 3, margin: 7 }),
    ty(10, -1, 10.54, { line: true, inside: false, ticks: [0, 2, 4, 6, 8, 10], labels: [0, 2, 4, 6, 8, 10], tickLen: 4, margin: 8 }),
  ];

  const series: any[] = [];
  const sc = (g: number, data: any[], size: number, color: string, border?: string, symbol = 'circle', bw = 0.6) =>
    series.push({ type: 'scatter', xAxisIndex: g, yAxisIndex: g, data, symbol, symbolSize: size, silent: true,
      itemStyle: { color, borderColor: border || color, borderWidth: border ? bw : 0, opacity: 1 } });
  const ln = (g: number, data: any[], color: string, width = 2, type: any = 'solid') =>
    series.push({ type: 'line', xAxisIndex: g, yAxisIndex: g, data, showSymbol: false, silent: true,
      lineStyle: { color, width, type }, z: 3 });

  // A
  const AG = '#1d5a2b';
  [A_R_V1, A_R_V2, A_R_V3, A_R_V4].forEach((v) => sc(0, zip(AB_POS, v), 3.6, AG, undefined, 'rect'));
  sc(0, A_R_EXTRA, 3.2, AG, undefined, 'rect');
  [A_L_V1, A_L_V2, A_L_V3, A_L_V4, A_L_V5].forEach((v) => sc(1, zip(AB_POS, v), 3.6, AG, undefined, 'rect'));
  sc(1, A_L_CLUSTER, 3.2, AG, undefined, 'rect');
  sc(1, A_L_EXTRA, 3.2, AG, undefined, 'rect');
  // B
  const BG = '#2a7a3a';
  [B_R_V1, B_R_V2, B_R_V3, B_R_V4].forEach((v) => sc(2, zip(AB_POS, v), 2.8, BG));
  sc(2, B_R_EXTRA, 2.6, BG);
  [B_L_V1, B_L_V2, B_L_V3, B_L_V4, B_L_V5].forEach((v) => sc(3, zip(AB_POS, v), 2.8, BG));
  sc(3, B_L_EXTRA, 2.6, BG);

  // C voltage right
  ln(4, [[0, 0], [300, 0]], '#000', 1.2);
  ln(4, VR_SALMON, '#f2a68e', 2.2);
  ln(4, VR_YELLOW, '#f2c433', 2.2);
  ln(4, VR_RED, '#e8141b', 2.2);
  ln(4, VR_BROWN, '#a0522d', 2);
  ln(4, VR_BLUE, '#4a3fb0', 2);
  ln(4, VR_CYAN, '#28b0dc', 2);
  ln(4, VR_GREEN, '#1d9a5c', 2);
  // C voltage left
  ln(7, [[0, 0], [300, 0]], '#000', 1.2);
  ln(7, VL_BROWN, '#a0522d', 2);
  ln(7, VL_BLUE, '#4a3fb0', 2);
  ln(7, VL_CYAN, '#28b0dc', 2);
  ln(7, VL_GREEN, '#1d9a5c', 2);

  // C raster right
  const BR = '#8a4a1e', BRB = '#4a2208', GR = '#1f8f47', GRB = '#0a4f22', CY = '#2aa7d8', CYB = '#0f5878';
  sc(5, CR_SALMON, 7, '#eeaa95', '#b0705a');
  sc(5, CR_RED, 7, '#e01010', '#900000');
  sc(5, CR_YELLOW, 7, '#e8c63a', '#9a7a10');
  sc(5, CR_CYAN, 7, CY, CYB);
  sc(5, CR_INDIGO, 7, '#4b4bb0', '#222266');
  [CR_GREEN_V1A, CR_GREEN_V1B, CR_GREEN_V2A, CR_GREEN_V2B, CR_GREEN_V3A, CR_GREEN_V3B, CR_GREEN_V4A, CR_GREEN_V4B]
    .forEach((v) => sc(5, zip(C_POS, v), 7, GR, GRB));
  [CR_BROWN_V1, CR_BROWN_V3, CR_BROWN_V4, CR_BROWN_V5].forEach((v) => sc(5, zip(C_POS, v), 7, BR, BRB));
  sc(5, CR_BROWN_V2, 7, BR, BRB);
  // C raster left
  sc(6, CL_CYAN, 7, CY, CYB);
  sc(6, CL_INDIGO, 7, '#4b4bb0', '#222266');
  [CL_GREEN_V1A, CL_GREEN_V1B, CL_GREEN_V2A, CL_GREEN_V2B, CL_GREEN_V3A, CL_GREEN_V3B, CL_GREEN_V4A, CL_GREEN_V4B]
    .forEach((v) => sc(6, zip(C_POS, v), 7, GR, GRB));
  sc(6, CL_GREEN_EXTRA, 7, GR, GRB);
  [CL_BROWN_V1, CL_BROWN_V2, CL_BROWN_V3, CL_BROWN_V4, CL_BROWN_V5].forEach((v) => sc(6, zip(C_POS, v), 7, BR, BRB));
  sc(6, CL_BROWN_EXTRA, 7, BR, BRB);

  // D
  const DG = '#1f8a3a', DGB = '#15602a';
  ln(8, [[0, D_DOT_POS], [300, D_DOT_POS]], '#000', 3, [3, 7]);
  ln(9, [[0, D_DOT_POS], [300, D_DOT_POS]], '#000', 3, [3, 7]);
  [D_R_V1, D_R_V2, D_R_V3, D_R_V4, D_R_V5].forEach((v) => sc(8, zip(D_POS, v), 7, DG, DGB, 'circle', 0.5));
  sc(8, D_R_EXTRA, 6.5, DG, DGB, 'circle', 0.5);
  [D_L_V1, D_L_V2, D_L_V3, D_L_V4, D_L_V5, D_L_V6].forEach((v) => sc(9, zip(D_POS, v), 7, DG, DGB, 'circle', 0.5));
  sc(9, D_L_EXTRA, 6.5, DG, DGB, 'circle', 0.5);
  ln(8, [[D_RED_R, 477], [D_RED_R, 2977]], '#e02020', 1.6);
  ln(9, [[D_RED_L, 480], [D_RED_L, 3000]], '#e02020', 1.6);

  // E
  const EG = '#2a9a4c';
  const errData = [
    ...E_FILLED_X.map((x, i) => [x, E_FILLED_LO[i], E_FILLED_HI[i]]),
    ...E_OPEN_X.map((x, i) => [x, E_OPEN_LO[i], E_OPEN_HI[i]]),
  ];
  series.push({
    type: 'custom', xAxisIndex: 10, yAxisIndex: 10, data: errData, silent: true, encode: { x: 0, y: [1, 2] },
    renderItem: (params: any, api: any) => {
      const x = api.value(0), lo = api.value(1), hi = api.value(2);
      const p1 = api.coord([x, lo]), p2 = api.coord([x, hi]);
      const w = 4;
      const st = { stroke: EG, lineWidth: 1.6 };
      return {
        type: 'group', children: [
          { type: 'line', shape: { x1: p1[0], y1: p1[1], x2: p2[0], y2: p2[1] }, style: st },
          { type: 'line', shape: { x1: p1[0] - w, y1: p1[1], x2: p1[0] + w, y2: p1[1] }, style: st },
          { type: 'line', shape: { x1: p2[0] - w, y1: p2[1], x2: p2[0] + w, y2: p2[1] }, style: st },
        ],
      };
    },
  });
  ln(10, E_FIT, '#000', 2);
  sc(10, E_FILLED_X.map((x, i) => [x, E_FILLED_Y[i]]), 9, '#1a9a48', '#1a9a48', 'circle', 1);
  sc(10, E_OPEN_X.map((x, i) => [x, E_OPEN_Y[i]]), 9, '#ffffff', '#1a9a48', 'circle', 1.5);
  series[series.length - 1].z = 5;
  series[series.length - 2].z = 5;

  // graphics
  const txt = (text: string, x: number, y: number, o: any = {}) => ({
    type: 'text', x, y, rotation: o.rot || 0, z: 100,
    style: { text, fill: o.fill || '#111', fontSize: o.size || 14, fontFamily: o.font || SANS, fontWeight: o.bold ? 'bold' : 'normal',
      align: o.align || 'center', verticalAlign: 'middle' },
  });
  const arrow = (x: number, y0: number, y1: number, hy: number) => [
    { type: 'line', z: 100, shape: { x1: x, y1: y0, x2: x, y2: hy }, style: { stroke: '#333', lineWidth: 1.6 } },
    { type: 'polygon', z: 100, shape: { points: [[x - 5, hy], [x + 5, hy], [x, y1]] }, style: { fill: '#333' } },
  ];
  const R90 = Math.PI / 2;
  const graphic = [
    txt('A', 2, 11, { bold: true, size: 19, align: 'left' }),
    txt('stimulate', 75, 8, { align: 'left' }),
    txt('spike times motoneurons', 246, 8),
    ...arrow(71, 0, 34, 22),
    txt('RC position \u00b5m', 22, 85, { rot: R90, size: 14 }),
    txt('Right', 297, 49, { size: 13 }),
    txt('Left', 257, 118, { size: 13 }),
    txt('ms', 52, 158, { size: 13 }),
    txt('B', 387, 10, { bold: true, size: 19, align: 'left' }),
    txt('spike times motoneurons', 585, 8),
    ...arrow(443, 0, 31, 20),
    txt('RC position \u00b5m', 392, 85, { rot: R90, size: 14 }),
    txt('Right', 665, 49, { size: 13 }),
    txt('Left', 627, 117, { size: 13 }),
    txt('ms', 423, 158, { size: 13 }),
    txt('C', 2, 185, { bold: true, size: 19, align: 'left' }),
    txt('stimulate', 79, 174, { align: 'left', size: 13 }),
    ...arrow(76, 166, 202, 188),
    txt('mV', 31, 222, { rot: R90, font: DJV, size: 15 }),
    txt('RC position \u00b5m', 22, 376, { rot: R90, font: DJV, size: 14 }),
    txt('mV', 27, 510, { rot: R90, font: DJV, size: 15 }),
    txt('Right', 614, 231, { size: 12 }),
    txt('Right', 577, 330, { size: 12 }),
    txt('Left', 512, 428, { size: 12 }),
    txt('Left', 533, 528, { size: 12 }),
    txt('Time (ms)', 403, 589),
    txt('D', 2, 593, { bold: true, size: 19, align: 'left' }),
    txt('spike times motoneurons', 218, 606),
    ...arrow(71, 598, 623, 608),
    txt('RC position \u00b5m', 22, 728, { rot: R90 }),
    txt('Right', 315, 667, { size: 13 }),
    txt('Left', 286, 787, { size: 13 }),
    txt('ms', 52, 846, { size: 13 }),
    txt('E', 418, 628, { bold: true, size: 19, align: 'left' }),
    txt('Spike delay (ms)', 432, 722, { rot: R90, size: 13 }),
    txt('RC Position \u00b5m', 595, 845),
  ];

  return { animation: false, backgroundColor: '#fff', grid: grids, xAxis, yAxis, series, graphic };
}

export default function App() {
  const ref = useRef<HTMLDivElement>(null);
  useEffect(() => {
    document.body.style.margin = '0';
    const chart = echarts.init(ref.current!, null, { renderer: 'svg' });
    chart.setOption(buildOption() as any);
    return () => chart.dispose();
  }, []);
  return <div ref={ref} style={{ width: 744, height: 853, background: '#fff' }} />;
}
